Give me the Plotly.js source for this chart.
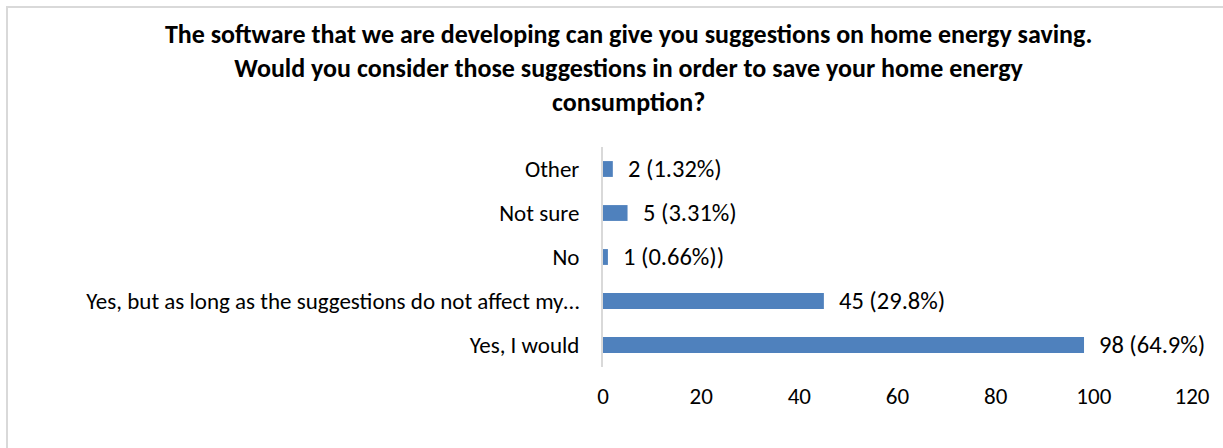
<!DOCTYPE html>
<html>
<head>
<meta charset="utf-8">
<script src="https://cdn.plot.ly/plotly-3.0.1.min.js"></script>
<style>
  html, body { margin: 0; padding: 0; background: #ffffff; }
  #chart { width: 1223px; height: 448px; position: relative; }
  #frame { position: absolute; left: 6px; top: 6px; width: 1230px; height: 460px;
           border-left: 2px solid #d9d9d9; border-top: 2px solid #d9d9d9; pointer-events: none; }
</style>
</head>
<body>
<div id="chart"></div>
<div id="frame"></div>
<script>
const categories = [
  "Yes, I would",
  "Yes, but as long as the suggestions do not affect my…",
  "No",
  "Not sure",
  "Other"
];
const counts = [98, 45, 1, 5, 2];
const percentLabels = ["98 (64.9%)", "45 (29.8%)", "1 (0.66%))", "5 (3.31%)", "2 (1.32%)"];
const xTicks = [0, 20, 40, 60, 80, 100, 120];
const titleText = "The software that we are developing can give you suggestions on home energy saving.<br>Would you consider those suggestions in order to save your home energy<br>consumption?";

const FONT = "Carlito, Lato, 'Open Sans', sans-serif";

const trace = {
  type: "bar",
  orientation: "h",
  y: categories,
  x: counts,
  marker: { color: "#4f81bd" },
  hoverinfo: "x+y",
  showlegend: false
};

const annotations = categories.map((c, i) => ({
  x: counts[i], y: c, xref: "x", yref: "y",
  text: percentLabels[i], showarrow: false,
  xanchor: "left", yanchor: "middle", xshift: 13,
  font: { family: FONT, size: 24.5, color: "#000000" }
}));

const layout = {
  width: 1223, height: 448,
  margin: { l: 603, r: 31, t: 147, b: 81, pad: 0 },
  paper_bgcolor: "rgba(0,0,0,0)",
  plot_bgcolor: "#ffffff",
  font: { family: FONT, size: 22, color: "#000000" },
  title: {
    text: titleText,
    xref: "container", x: 0.514, xanchor: "center",
    yref: "container", y: 0.904, yanchor: "middle",
    font: { family: FONT, size: 26, color: "#000000", weight: "bold" }
  },
  bargap: 0.64,
  xaxis: {
    range: [0, 120],
    tickvals: xTicks,
    ticktext: xTicks.map(String),
    showgrid: false, zeroline: false, showline: false,
    ticks: "", ticklabelstandoff: 13,
    tickfont: { family: FONT, size: 23, color: "#000000" },
    fixedrange: true
  },
  yaxis: {
    type: "category",
    showgrid: false, zeroline: false,
    showline: true, linecolor: "#d9d9d9", linewidth: 2,
    ticks: "", ticklabelstandoff: 17,
    tickfont: { family: FONT, size: 23, color: "#000000" },
    fixedrange: true
  },
  annotations: annotations
};

Plotly.newPlot("chart", [trace], layout, { displayModeBar: false, staticPlot: true });
</script>
</body>
</html>
